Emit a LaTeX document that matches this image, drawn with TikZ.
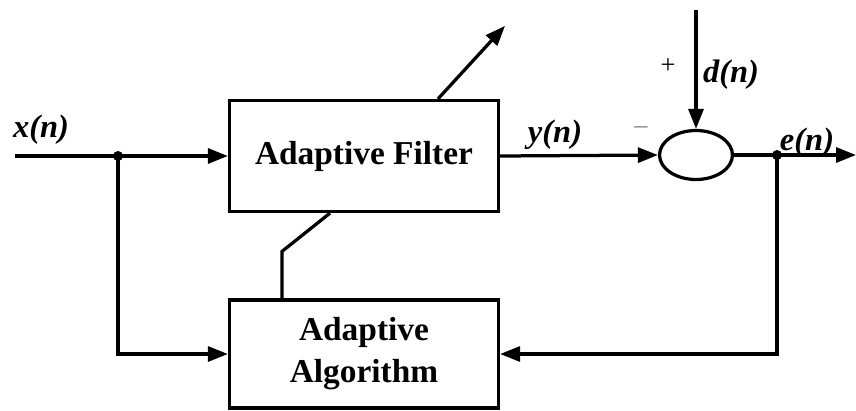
\documentclass[tikz,border=0pt]{standalone}
\usepackage{fontspec}
\setmainfont{Liberation Serif}
\usetikzlibrary{arrows.meta,shapes.geometric}
\tikzset{
  blk/.style={draw,line width=0.065cm,minimum width=5.38cm,minimum height=2.22cm,
    font=\fontsize{19}{24}\selectfont\bfseries,align=center},
  sig/.style={line width=0.065cm},
  tip/.style={-{Triangle[length=0.4cm,width=0.3cm]}},
  lbl/.style={font=\fontsize{18.5}{20}\selectfont\bfseries\itshape}
}
\begin{document}
\begin{tikzpicture}[x=0.02cm,y=-0.02cm]
	\useasboundingbox (0,0) rectangle (856,410);
	\node[blk] (filt) at (364,156) {Adaptive Filter};
	\node[blk,minimum height=2.16cm] (algo) at (364,354) {Adaptive\\Algorithm};
	\node[draw,ellipse,sig,minimum width=1.46cm,minimum height=0.98cm] (sum) at (696,155) {};
	\coordinate (xin) at (15,156);
	\coordinate (xdot) at (118,156);
	\coordinate (edot) at (777,155);
	\coordinate (eout) at (856,155);
	\coordinate (dtop) at (696,10);

	\draw[sig] (xin) -- (xdot);
	\draw[sig,tip] (xdot) -- (filt.west);
	\draw[sig,tip] (xdot) |- (algo.west);
	\draw[sig,tip] (filt.east) -- (sum.west);
	\draw[sig,tip] (dtop) -- (sum.north);
	\draw[sig] (sum.east) -- (edot);
	\draw[sig,tip] (edot) -- (eout);
	\draw[sig,tip] (edot) |- (algo.east);
	\fill (xdot) circle (0.1cm);
	\fill (edot) circle (0.1cm);
	% adaptation
	\draw[sig,tip] ([xshift=1.48cm]filt.north) -- ++(67,-73);
	\draw[sig] ([xshift=-1.64cm]algo.north) -- ++(0,-47) -- ([xshift=-0.68cm]filt.south);

	\node[lbl] (xl) at (41,130) {x(n)};
	\node[lbl] (yl) at (555,135) {y(n)};
	\node[lbl] (dl) at (731,75) {d(n)};
	\node[lbl] (el) at (807,143) {e(n)};
	\node[font=\fontsize{15}{18}\selectfont] (pl) at (668,66) {+};
	\node[font=\fontsize{15}{18}\selectfont,text=gray] (mi) at (641,130) {--};
\end{tikzpicture}
\end{document}
